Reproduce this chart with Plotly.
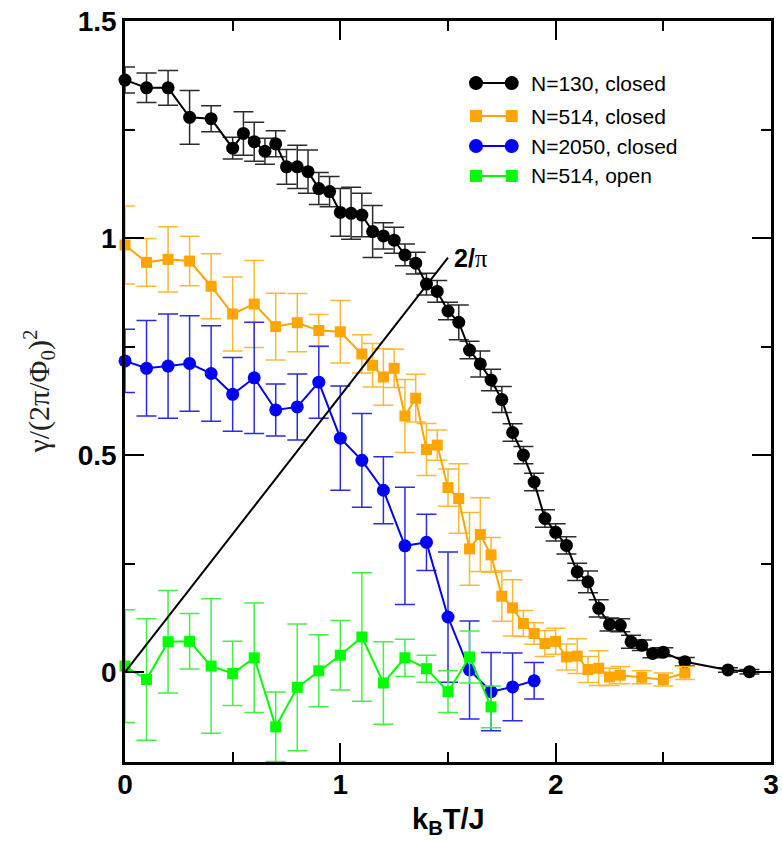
import numpy as np
import plotly.graph_objects as go

# ---- N=130, closed ----
t_130c = [0.0, 0.1, 0.2, 0.3, 0.4,
          0.5, 0.55, 0.6, 0.65, 0.7, 0.75, 0.8, 0.85, 0.9, 0.95,
          1.0, 1.05, 1.1, 1.15, 1.2, 1.25, 1.3, 1.35, 1.4, 1.45,
          1.5, 1.55, 1.6, 1.65, 1.7, 1.75, 1.8, 1.85, 1.9, 1.95,
          2.0, 2.05, 2.1, 2.15, 2.2, 2.25, 2.3, 2.35, 2.4, 2.45,
          2.5, 2.6, 2.8, 2.9]
g_130c = [1.364, 1.346, 1.346, 1.278, 1.275,
          1.207, 1.241, 1.222, 1.200, 1.217, 1.164, 1.164, 1.153, 1.114, 1.107,
          1.059, 1.057, 1.053, 1.015, 1.005, 0.995, 0.961, 0.942, 0.894, 0.877,
          0.832, 0.806, 0.742, 0.710, 0.673, 0.628, 0.552, 0.500, 0.438, 0.354,
          0.322, 0.292, 0.231, 0.208, 0.147, 0.110, 0.108, 0.070, 0.062, 0.043,
          0.046, 0.024, 0.005, 0.001]
e_130c = [0.030, 0.034, 0.040, 0.062, 0.030,
          0.025, 0.050, 0.045, 0.030, 0.030, 0.040, 0.050, 0.050, 0.037, 0.035,
          0.055, 0.060, 0.050, 0.060, 0.030, 0.030, 0.025, 0.025, 0.025, 0.025,
          0.020, 0.040, 0.020, 0.030, 0.025, 0.030, 0.020, 0.020, 0.020, 0.020,
          0.020, 0.020, 0.020, 0.025, 0.020, 0.015, 0.015, 0.015, 0.012, 0.010,
          0.010, 0.010, 0.005, 0.005]

# ---- N=514, closed ----
t_514c = [0.0, 0.1, 0.2, 0.3, 0.4, 0.5, 0.6, 0.7, 0.8, 0.9,
          1.0, 1.1, 1.15, 1.2, 1.25, 1.3, 1.35, 1.4, 1.45, 1.5,
          1.55, 1.6, 1.65, 1.7, 1.75, 1.8, 1.85, 1.9, 1.95, 2.0,
          2.05, 2.1, 2.15, 2.2, 2.25, 2.3, 2.4, 2.5, 2.6]
g_514c = [0.984, 0.944, 0.951, 0.947, 0.889, 0.825, 0.848, 0.796, 0.805, 0.787,
          0.784, 0.733, 0.707, 0.680, 0.700, 0.590, 0.631, 0.513, 0.523, 0.425,
          0.400, 0.284, 0.317, 0.270, 0.175, 0.148, 0.112, 0.089, 0.066, 0.071,
          0.035, 0.037, 0.006, 0.009, -0.011, -0.007, -0.012, -0.017, -0.002]
e_514c = [0.090, 0.055, 0.075, 0.057, 0.075, 0.085, 0.100, 0.077, 0.067, 0.037,
          0.072, 0.044, 0.050, 0.065, 0.044, 0.084, 0.055, 0.060, 0.035, 0.043,
          0.080, 0.084, 0.085, 0.040, 0.058, 0.065, 0.030, 0.025, 0.030, 0.030,
          0.030, 0.040, 0.030, 0.040, 0.020, 0.020, 0.015, 0.015, 0.015]

# ---- N=2050, closed ----
t_2050c = [0.0, 0.1, 0.2, 0.3, 0.4, 0.5, 0.6, 0.7, 0.8, 0.9,
           1.0, 1.1, 1.2, 1.3, 1.4, 1.5, 1.6, 1.7, 1.8, 1.9]
g_2050c = [0.717, 0.700, 0.705, 0.711, 0.688, 0.640, 0.678, 0.604, 0.611, 0.668,
           0.539, 0.488, 0.419, 0.291, 0.299, 0.127, 0.005, -0.045, -0.034, -0.020]
e_2050c = [0.073, 0.110, 0.120, 0.110, 0.110, 0.085, 0.128, 0.060, 0.076, 0.083,
           0.120, 0.108, 0.077, 0.135, 0.065, 0.150, 0.113, 0.090, 0.078, 0.042]

# ---- N=514, open ----
t_514o = [0.0, 0.1, 0.2, 0.3, 0.4, 0.5, 0.6, 0.7, 0.8, 0.9,
          1.0, 1.1, 1.2, 1.3, 1.4, 1.5, 1.6, 1.7]
g_514o = [0.014, -0.017, 0.070, 0.071, 0.014, -0.003, 0.033, -0.126, -0.035, 0.003,
          0.039, 0.081, -0.025, 0.033, 0.008, -0.045, 0.035, -0.080]
e_514o = [0.130, 0.140, 0.118, 0.064, 0.155, 0.074, 0.126, 0.080, 0.146, 0.083,
          0.080, 0.148, 0.095, 0.043, 0.031, 0.048, 0.060, 0.048]

# universal-jump line gamma = (2/pi) T
jump_t = [0.0, 1.5]
jump_slope = 2.0 / np.pi

series = [
    dict(name="N=130, closed", x=t_130c, y=g_130c, e=e_130c,
         color="#000000", ecolor="#2b2b2b", symbol="circle", size=13),
    dict(name="N=514, closed", x=t_514c, y=g_514c, e=e_514c,
         color="#FFA500", ecolor="#FFB833", symbol="square", size=11),
    dict(name="N=2050, closed", x=t_2050c, y=g_2050c, e=e_2050c,
         color="#0000FF", ecolor="#2a2ae8", symbol="circle", size=13),
    dict(name="N=514, open", x=t_514o, y=g_514o, e=e_514o,
         color="#00FF00", ecolor="#44F044", symbol="square", size=11),
]

fig = go.Figure()

for s in series:
    fig.add_trace(go.Scatter(
        x=s["x"], y=s["y"], mode="lines+markers", name=s["name"],
        line=dict(color=s["color"], width=2),
        marker=dict(color=s["color"], symbol=s["symbol"], size=s["size"],
                    line=dict(width=0)),
        error_y=dict(type="data", array=s["e"], color=s["ecolor"],
                     thickness=1.5, width=10),
        cliponaxis=False, showlegend=False,
    ))

fig.add_trace(go.Scatter(
    x=jump_t, y=[jump_slope * t for t in jump_t], mode="lines",
    line=dict(color="black", width=2), showlegend=False, hoverinfo="skip",
))

# key in the upper right: two symbols joined by a line, then the label
KEY_X0, KEY_X1, KEY_TX = 1.63, 1.796, 1.875
KEY_ROWS = [1.357, 1.281, 1.212, 1.143]
for s, row in zip(series, KEY_ROWS):
    fig.add_trace(go.Scatter(
        x=[KEY_X0, KEY_X1], y=[row, row], mode="lines+markers",
        line=dict(color=s["color"], width=2),
        marker=dict(color=s["color"], symbol=s["symbol"], size=s["size"] + 1),
        showlegend=False, hoverinfo="skip",
    ))
    fig.add_annotation(x=KEY_TX, y=row, xref="x", yref="y", text=s["name"],
                       showarrow=False, xanchor="left", yanchor="middle",
                       font=dict(family="Liberation Sans, Arial", size=21,
                                 color="black"))

fig.add_annotation(x=1.52, y=0.955, xref="x", yref="y",
                   text="<b>2/</b><span style='font-family:Liberation Serif'>π</span>",
                   showarrow=False, xanchor="left", yanchor="middle",
                   font=dict(family="Liberation Sans, Arial", size=25, color="black"))

# axis titles
fig.add_annotation(x=0.5, y=-0.08, xref="paper", yref="paper",
                   text="<b>k<sub>B</sub>T/J</b>", showarrow=False,
                   xanchor="center", yanchor="middle",
                   font=dict(family="Liberation Sans, Arial", size=29, color="black"))
fig.add_annotation(x=-0.133, y=0.5, xref="paper", yref="paper",
                   text="γ/(2π/Φ<sub>0</sub>)<sup>2</sup>", showarrow=False,
                   textangle=-90, xanchor="center", yanchor="middle",
                   font=dict(family="Liberation Serif, Times New Roman", size=30,
                             color="#222222"))

axis_common = dict(
    showline=True, linecolor="black", linewidth=2.5, mirror="ticks",
    ticks="inside", ticklen=19, tickwidth=2, tickcolor="black",
    showgrid=False, zeroline=False, automargin=False,
    tickfont=dict(family="Liberation Sans, Arial", size=28, color="black",
                  weight="bold"),
)

fig.update_xaxes(range=[0, 3], tick0=0, dtick=1,
                 minor=dict(dtick=0.5, ticks="inside", ticklen=10,
                            tickwidth=2, tickcolor="black", showgrid=False),
                 ticklabelstandoff=-4, **axis_common)
fig.update_yaxes(range=[-0.207, 1.5], tick0=0, dtick=0.5,
                 minor=dict(dtick=0.25, ticks="inside", ticklen=10,
                            tickwidth=2, tickcolor="black", showgrid=False),
                 ticklabelstandoff=0, **axis_common)

fig.update_layout(
    width=782, height=843,
    margin=dict(l=125, r=11, t=21, b=81),
    plot_bgcolor="white", paper_bgcolor="white",
    showlegend=False,
)

fig.write_html("out.html")
